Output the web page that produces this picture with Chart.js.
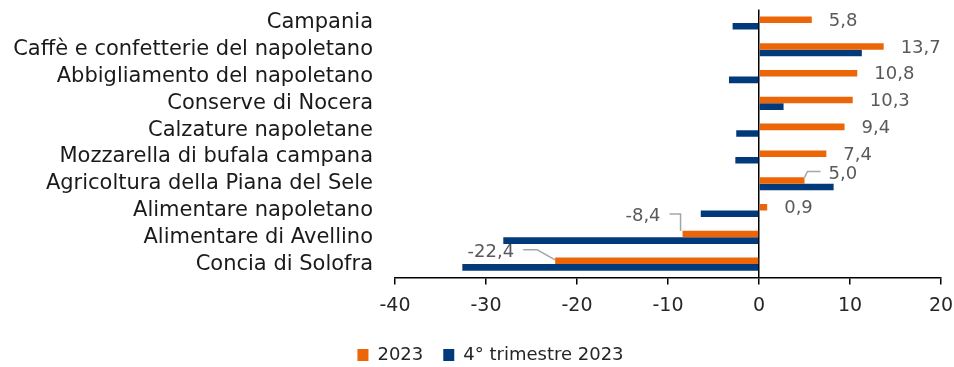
<!DOCTYPE html>
<html>
<head>
<meta charset="utf-8">
<script src="https://cdn.jsdelivr.net/npm/chart.js@4"></script>
<style>
  html, body { margin: 0; padding: 0; background: #fff; }
  #box { width: 954px; height: 367px; }
</style>
</head>
<body>
<div id="box"><canvas id="graficoDistretti"></canvas></div>
<script>
// distretti, dall'alto verso il basso
const categorie = [
  'Campania',
  'Caffè e confetterie del napoletano',
  'Abbigliamento del napoletano',
  'Conserve di Nocera',
  'Calzature napoletane',
  'Mozzarella di bufala campana',
  'Agricoltura della Piana del Sele',
  'Alimentare napoletano',
  'Alimentare di Avellino',
  'Concia di Solofra'
];
const serie2023 = [5.8, 13.7, 10.8, 10.3, 9.4, 7.4, 5.0, 0.9, -8.4, -22.4];
const serieQ4 = [-2.9, 11.3, -3.3, 2.7, -2.5, -2.6, 8.2, -6.4, -28.1, -32.6];
const nomiSerie = ['2023', '4° trimestre 2023'];
const assex = { min: -40, max: 20, passo: 10 };

const ARANCIO = '#ec6608';
const BLU = '#003a7a';
const FONT = '"DejaVu Sans", sans-serif';

// etichette spostate con linea guida: punti della linea ed ancoraggio del testo,
// relativi alla fine della barra
const guide = {
  6: { linea: [[0, -3], [3, -9], [16, -9]], dx: 24, dy: -6.5 },
  8: { linea: [[-2, -3], [-2, -20], [-13, -20]], dx: -22, dy: -17.5 },
  9: { linea: [[0, -1], [-18, -11], [-32, -11]], dx: -41, dy: -8.5 }
};

const etichette = {
  id: 'etichette',
  afterDatasetsDraw(chart) {
    const ctx = chart.ctx;
    const meta = chart.getDatasetMeta(0);
    ctx.save();
    ctx.font = '18px ' + FONT;
    ctx.fillStyle = '#595959';
    ctx.strokeStyle = '#a6a6a6';
    ctx.lineWidth = 1.5;
    ctx.textBaseline = 'middle';
    meta.data.forEach((bar, i) => {
      const testo = serie2023[i].toFixed(1).replace('.', ',');
      const xe = bar.x, yc = bar.y;
      const g = guide[i];
      if (g) {
        ctx.beginPath();
        g.linea.forEach(([dx, dy], k) => {
          if (k === 0) ctx.moveTo(xe + dx, yc + dy);
          else ctx.lineTo(xe + dx, yc + dy);
        });
        ctx.stroke();
        ctx.textAlign = g.dx < 0 ? 'right' : 'left';
        ctx.fillText(testo, xe + g.dx, yc + g.dy);
      } else {
        ctx.textAlign = 'left';
        ctx.fillText(testo, xe + 17, yc + 1.5);
      }
    });
    ctx.restore();
  }
};

// la legenda sta un po' a destra rispetto al centro della tela
const spostaLegenda = {
  id: 'spostaLegenda',
  afterLayout(chart) {
    chart.legend.left += 20;
    chart.legend.right += 20;
  }
};

const ctx = document.getElementById('graficoDistretti');

new Chart(ctx, {
  type: 'bar',
  data: {
    labels: categorie,
    datasets: [
      { label: nomiSerie[0], data: serie2023, backgroundColor: ARANCIO },
      { label: nomiSerie[1], data: serieQ4, backgroundColor: BLU }
    ]
  },
  options: {
    indexAxis: 'y',
    responsive: true,
    maintainAspectRatio: false,
    animation: false,
    layout: { padding: { top: 9.6, right: 13, bottom: 0, left: 0 } },
    datasets: { bar: { categoryPercentage: 0.49, barPercentage: 1 } },
    scales: {
      x: {
        min: assex.min,
        max: assex.max,
        ticks: { stepSize: assex.passo, color: '#262626', font: { family: FONT, size: 19 }, padding: 10 },
        grid: {
          color: c => (c.tick && c.tick.value === 0 ? '#000' : 'rgba(0,0,0,0)'),
          tickColor: '#000',
          tickLength: 7,
          lineWidth: 1.5
        },
        border: { color: '#000', width: 1.5 },
        afterFit: s => {
          s.height = 48.5;
          s.paddingLeft = 0;
          s.paddingRight = 0;
        }
      },
      y: {
        grid: { display: false, drawTicks: false },
        border: { display: false },
        ticks: { color: '#1a1a1a', font: { family: FONT, size: 21 }, padding: 22, autoSkip: false },
        afterFit: s => {
          s.width = 395;
          s.paddingTop = 0;
          s.paddingBottom = 0;
        }
      }
    },
    plugins: {
      legend: {
        position: 'bottom',
        maxHeight: 41,
        labels: { boxWidth: 11, boxHeight: 12, padding: 20, color: '#262626', font: { family: FONT, size: 18 } }
      },
      tooltip: { enabled: false }
    }
  },
  plugins: [etichette, spostaLegenda]
});
</script>
</body>
</html>
